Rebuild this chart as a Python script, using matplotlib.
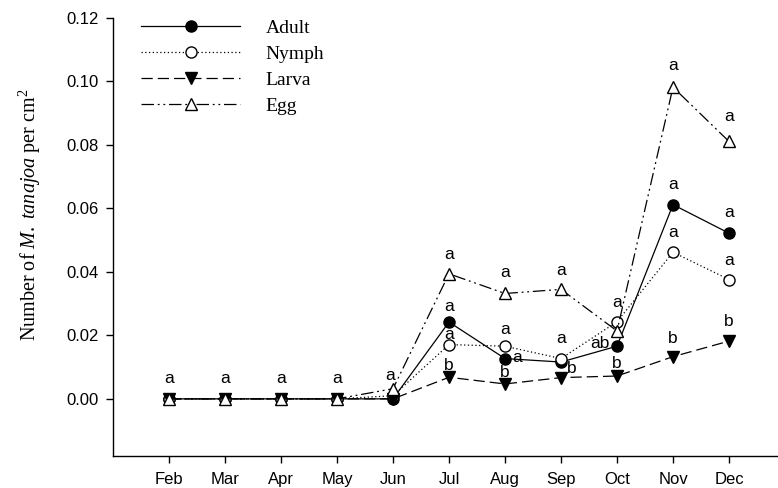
import matplotlib
matplotlib.use("Agg")
import matplotlib.pyplot as plt
import numpy as np

# --- Monthly densities (individuals per cm2) ---
months = ["Feb", "Mar", "Apr", "May", "Jun", "Jul", "Aug", "Sep", "Oct", "Nov", "Dec"]
adult = [0.0, 0.0, 0.0, 0.0, 0.0, 0.0242, 0.0127, 0.0116, 0.0166, 0.0612, 0.0522]
nymph = [0.0, 0.0, 0.0, 0.0, 0.001, 0.0171, 0.0166, 0.0127, 0.0243, 0.0462, 0.0376]
larva = [0.0, 0.0, 0.0, 0.0, 0.0, 0.0068, 0.0047, 0.0067, 0.0072, 0.0133, 0.0182]
egg = [0.0, 0.0, 0.0, 0.0, 0.0032, 0.0394, 0.0332, 0.0345, 0.0214, 0.0982, 0.0811]

# significance letters for each series ('' = no letter)
adult_letters = ["", "", "", "", "", "a", "a", "", "ab", "a", "a"]
nymph_letters = ["", "", "", "", "", "a", "a", "a", "a", "a", "a"]
larva_letters = ["", "", "", "", "", "b", "b", "b", "b", "b", "b"]
egg_letters = ["a", "a", "a", "a", "a", "a", "a", "a", "", "a", "a"]

# letter offsets from the marker, in pixels (dx, dy)
adult_offsets = [(0, 0)] * 5 + [(0, 16), (12, 1), (0, 0), (-17, 3), (0, 20), (0, 21)]
nymph_offsets = [(0, 0)] * 5 + [(0, 10), (0, 17), (0, 20), (0, 19), (0, 20), (0, 19)]
larva_offsets = [(0, 0)] * 5 + [(0, 12), (0, 11), (11, 9), (0, 13), (0, 18), (0, 20)]
egg_offsets = [(0, 20)] * 4 + [(-3, 13), (0, 19), (0, 21), (0, 19), (0, 0), (0, 22), (0, 25)]

plt.rcParams["font.family"] = ["Liberation Sans", "DejaVu Sans"]
plt.rcParams["mathtext.fontset"] = "custom"
plt.rcParams["mathtext.rm"] = "Liberation Serif"
plt.rcParams["mathtext.it"] = "Liberation Serif:italic"

x = np.arange(1, len(months) + 1)

fig = plt.figure(figsize=(7.78, 4.88), dpi=100)
ax = fig.add_axes([113 / 778, 1 - 456 / 488, 665 / 778, 438 / 488])

styles = [
    ("Adult", adult, "-", "o", "black"),
    ("Nymph", nymph, (0, (1, 2)), "o", "white"),
    ("Larva", larva, (0, (9, 4)), "v", "black"),
    ("Egg", egg, (0, (10, 3, 1.5, 3, 1.5, 3)), "^", "white"),
]
for name, vals, ls, mk, face in styles:
    ax.plot(x, vals, linestyle=ls, color="black", linewidth=0.9,
            marker=mk, markersize=8, markerfacecolor=face,
            markeredgecolor="black", markeredgewidth=1.0, label=name)

# --- Letters above the points ---
for vals, letters, offsets in [(egg, egg_letters, egg_offsets),
                               (adult, adult_letters, adult_offsets),
                               (nymph, nymph_letters, nymph_offsets),
                               (larva, larva_letters, larva_offsets)]:
    for xi, v, lab, off in zip(x, vals, letters, offsets):
        if lab:
            ax.annotate(lab, (xi, v), xytext=off, textcoords="offset pixels",
                        ha="center", va="center", fontsize=12.5)

# --- Axes ---
ax.set_xlim(0, 11.875)
ax.set_ylim(-0.018, 0.12)
ax.set_xticks(x)
ax.set_xticklabels(months)
ax.set_yticks(np.arange(0, 0.121, 0.02))
ax.set_yticklabels([f"{t:.2f}" for t in np.arange(0, 0.121, 0.02)])
ax.tick_params(direction="out", length=5, width=1, labelsize=12, pad=5)
ax.tick_params(axis="x", pad=6.5)
ax.spines["top"].set_visible(False)
ax.spines["right"].set_visible(False)
ax.spines["left"].set_linewidth(1)
ax.spines["bottom"].set_linewidth(1)

ax.set_ylabel(r"Number of $\mathit{M.\ tanajoa}$ per cm$^{2}$",
              family="Liberation Serif", fontsize=14.5)
ax.yaxis.set_label_coords(-0.105, 0.55)

ax.legend(loc="upper left", bbox_to_anchor=(141 / 778, 1 - 19 / 488),
          bbox_transform=fig.transFigure, frameon=False, borderpad=0,
          borderaxespad=0, handlelength=5.1, handletextpad=1.3,
          labelspacing=0.44, numpoints=1,
          prop={"family": "Liberation Serif", "size": 14})

plt.savefig("out.png", dpi=100)
